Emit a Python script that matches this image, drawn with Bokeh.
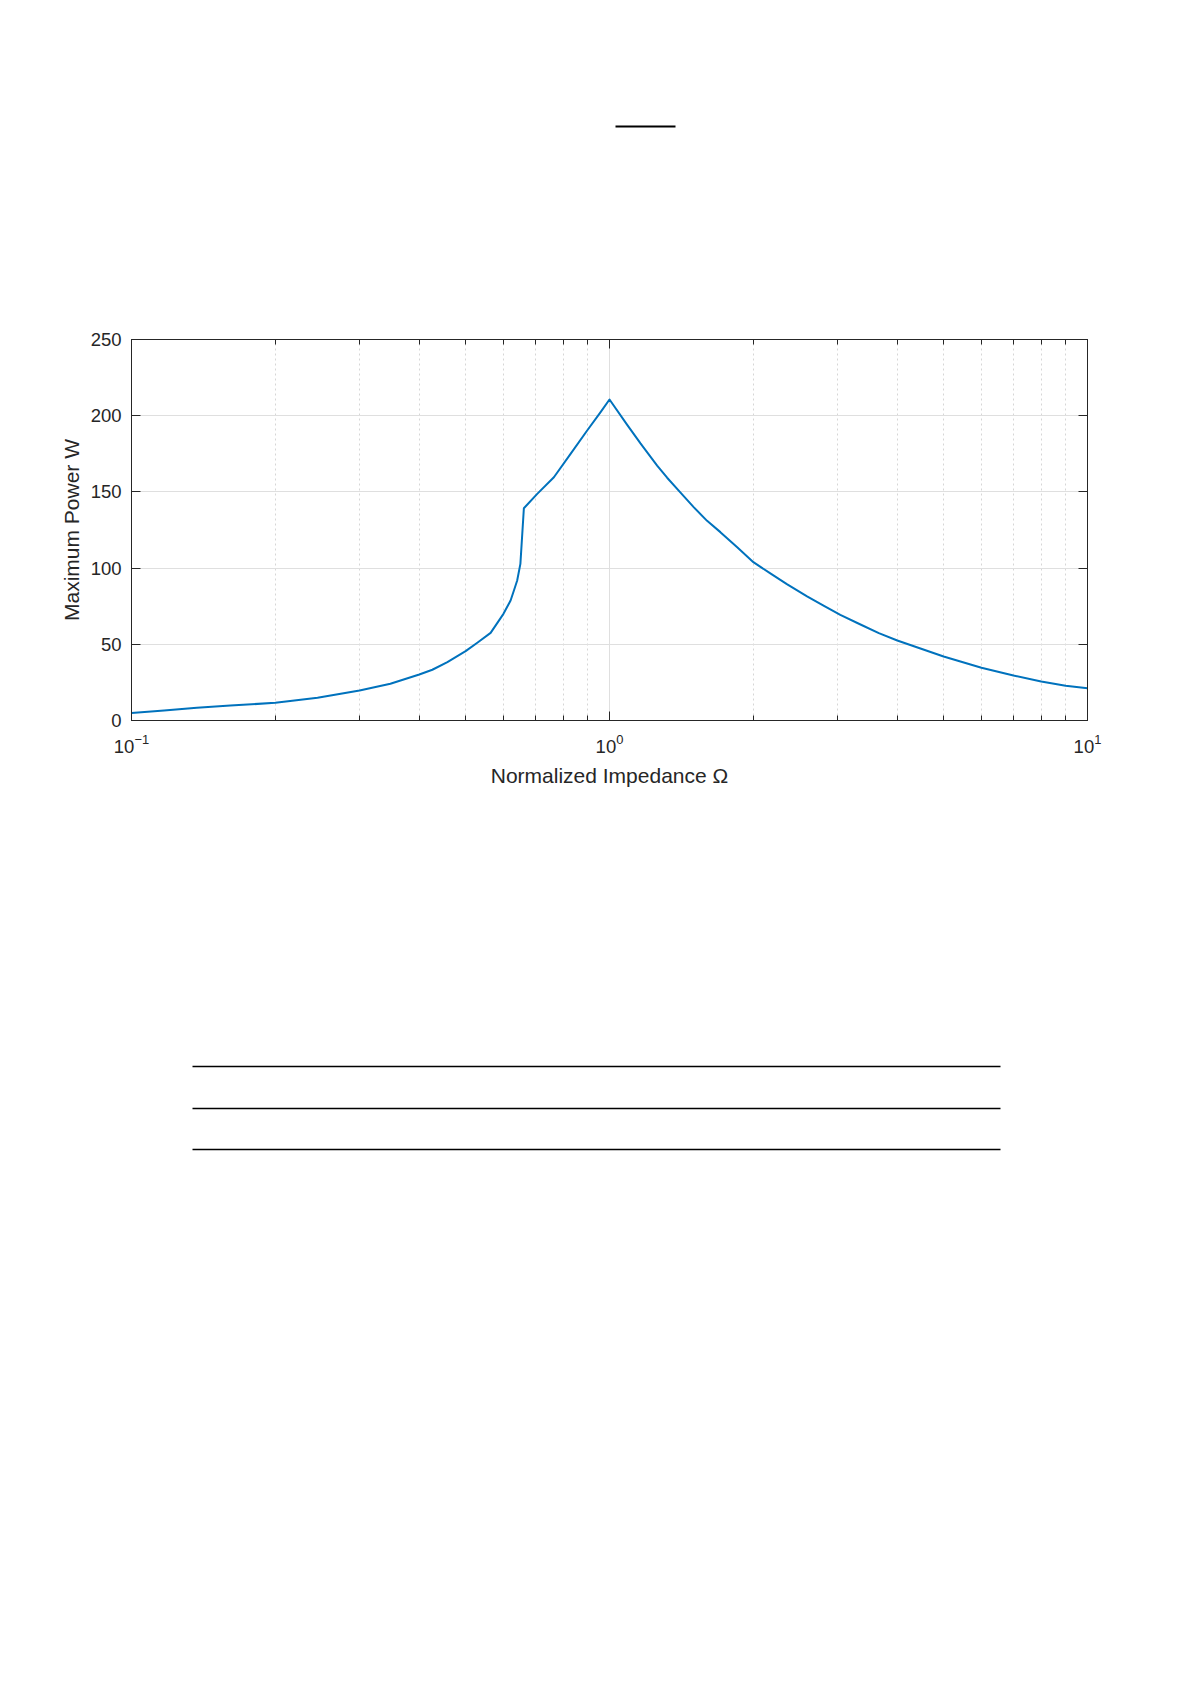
from bokeh.plotting import figure
from bokeh.layouts import column
from bokeh.models import FixedTicker, LogAxis, LinearAxis, Range1d
from bokeh.embed import file_html
from bokeh.resources import INLINE

# ---- data ----
impedance = [0.100, 0.117, 0.137, 0.161, 0.200, 0.245, 0.300, 0.348, 0.400, 0.426,
             0.458, 0.500, 0.529, 0.564, 0.600, 0.621, 0.631, 0.641, 0.651, 0.662,
             0.706, 0.765, 0.829, 0.898, 0.958, 1.000, 1.089, 1.161, 1.258, 1.320,
             1.408, 1.500, 1.600, 1.706, 1.850, 2.000, 2.170, 2.350, 2.590, 2.810,
             3.040, 3.350, 3.660, 4.000, 5.000, 6.000, 7.000, 8.000, 9.000, 10.000]
max_power = [5.0, 6.6, 8.3, 9.8, 11.6, 14.9, 19.7, 24.1, 30.2, 33.3,
             38.3, 45.5, 51.0, 57.5, 70.0, 78.7, 85.3, 91.9, 102.8, 139.3,
             148.7, 159.6, 175.0, 190.3, 202.3, 210.6, 194.0, 181.8, 167.3, 159.3,
             149.5, 140.0, 131.0, 123.6, 113.7, 103.9, 96.5, 89.5, 81.5, 75.2,
             69.3, 63.0, 57.3, 52.5, 42.0, 34.6, 29.5, 25.6, 22.8, 21.2]
x_major = [0.1, 1.0, 10.0]
x_minor = [0.2, 0.3, 0.4, 0.5, 0.6, 0.7, 0.8, 0.9, 2, 3, 4, 5, 6, 7, 8, 9]
y_ticks = [0, 50, 100, 150, 200, 250]
x_label = "Normalized Impedance \u03a9"
y_label = "Maximum Power W"

FONT = "Liberation Sans"
TXT = "#262626"
W = 1175
BL, BR = 131, 88          # borders left/right so the frame is 956 px wide
FW = W - BL - BR
TOP_H = 308

# ---- top decorative rule (x relative to the chart frame) ----
top = figure(width=W, height=TOP_H, x_range=Range1d(start=0, end=FW), y_range=Range1d(start=TOP_H, end=0),
             output_backend="svg", toolbar_location=None,
             x_axis_location=None, y_axis_location=None,
             min_border_left=BL, min_border_right=BR, min_border_top=0, min_border_bottom=0)
top.outline_line_color = None
top.grid.visible = False
top.segment(x0=[484], y0=[126], x1=[544], y1=[126], line_color="black", line_width=2)

# ---- main chart ----
p = figure(width=W, height=540, x_axis_type="log",
           x_range=Range1d(start=0.1, end=10), y_range=Range1d(start=0, end=250),
           output_backend="svg", toolbar_location=None,
           min_border_left=BL, min_border_right=BR,
           min_border_top=31, min_border_bottom=128)
p.outline_line_color = TXT
p.outline_line_width = 1

xt = FixedTicker(ticks=x_major, minor_ticks=x_minor)
yt = FixedTicker(ticks=y_ticks, minor_ticks=[])

bx = p.xaxis[0]
ly = p.yaxis[0]
bx.ticker = xt
ly.ticker = yt

top_ax = LogAxis(ticker=xt)
right_ax = LinearAxis(ticker=yt)
p.add_layout(top_ax, "above")
p.add_layout(right_ax, "right")

for ax in [bx, top_ax]:
    ax.major_tick_in = 9
    ax.major_tick_out = 0
    ax.minor_tick_in = 5
    ax.minor_tick_out = 0
    ax.minor_tick_line_color = TXT
for ax in [ly, right_ax]:
    ax.major_tick_in = 9
    ax.major_tick_out = 0
    ax.minor_tick_line_color = None
for ax in [bx, top_ax, ly, right_ax]:
    ax.axis_line_color = TXT
    ax.major_tick_line_color = TXT
    ax.major_label_text_font = FONT
    ax.major_label_text_font_size = "18.5px"
    ax.major_label_text_color = TXT
    ax.axis_label_text_font = FONT
    ax.axis_label_text_font_size = "21px"
    ax.axis_label_text_font_style = "normal"
    ax.axis_label_text_color = TXT
top_ax.major_label_text_color = None
right_ax.major_label_text_color = None

bx.axis_label = x_label
ly.axis_label = y_label
bx.major_label_standoff = 13
bx.axis_label_standoff = 8
ly.major_label_standoff = 10
ly.axis_label_standoff = 5

p.xgrid.ticker = xt
p.ygrid.ticker = yt
p.xgrid.grid_line_color = "#dfdfdf"
p.ygrid.grid_line_color = "#dfdfdf"
p.xgrid.minor_grid_line_color = "#d6d6d6"
p.xgrid.minor_grid_line_dash = "2 3"

p.line(impedance, max_power, line_color="#0072BD", line_width=2, line_join="round")

# ---- bottom decorative rules (x relative to the chart frame) ----
bot = figure(width=W, height=400, x_range=Range1d(start=0, end=FW), y_range=Range1d(start=400, end=0),
             output_backend="svg", toolbar_location=None,
             x_axis_location=None, y_axis_location=None,
             min_border_left=BL, min_border_right=BR, min_border_top=0, min_border_bottom=0)
bot.outline_line_color = None
bot.grid.visible = False
bot.segment(x0=[61, 61, 61], y0=[218, 260, 301], x1=[869, 869, 869], y1=[218, 260, 301],
            line_color="black", line_width=1.5)

layout = column(top, p, bot, spacing=0)
open("out.html", "w").write(file_html(layout, INLINE))
